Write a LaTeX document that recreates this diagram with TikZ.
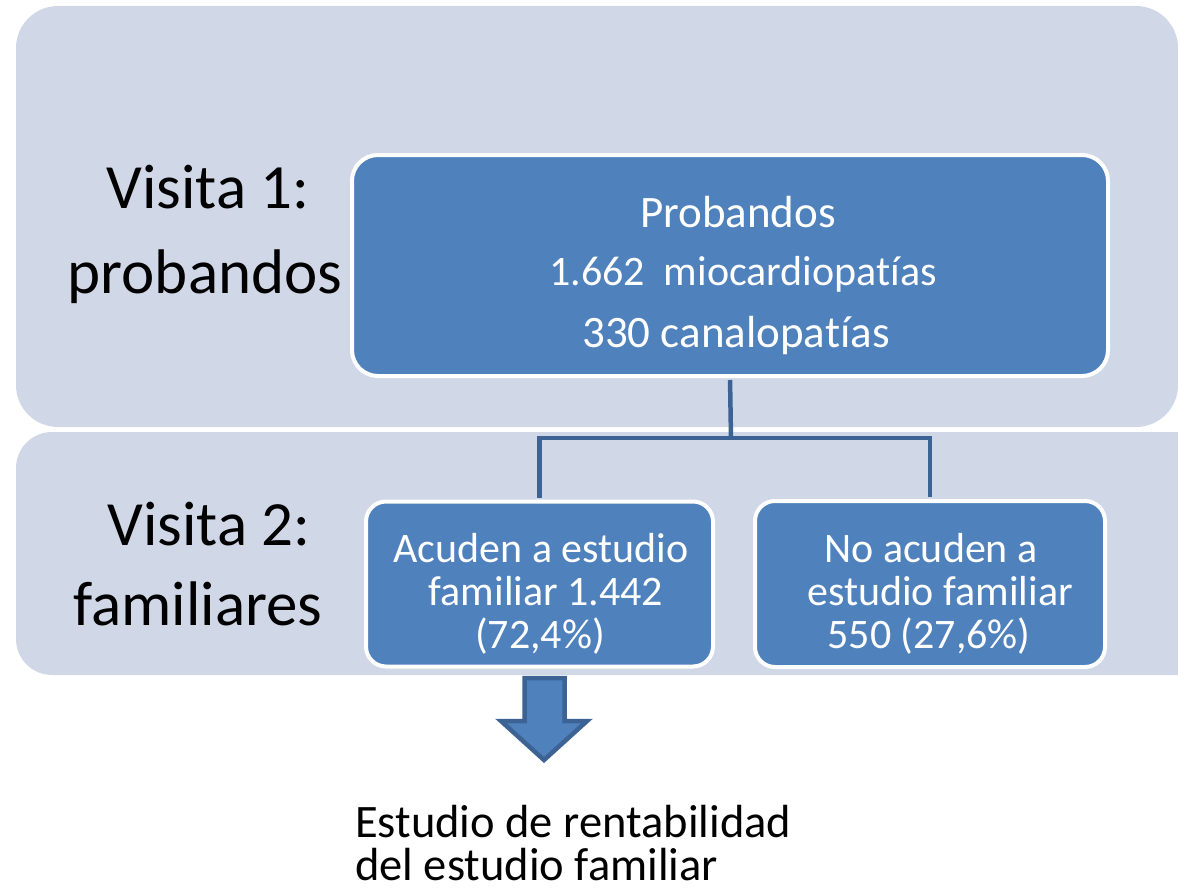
\documentclass[tikz,border=0pt]{standalone}
\usepackage{fontspec}
\setmainfont{Carlito}[Ligatures=NoCommon]
\definecolor{bandfill}{HTML}{D0D8E8}
\definecolor{boxfill}{HTML}{4F81BD}
\definecolor{connblue}{HTML}{3C6394}
\begin{document}
\begin{tikzpicture}[x=1pt,y=-1pt,
  band/.style={fill=bandfill, draw=none, inner sep=0pt},
  bluebox/.style={fill=boxfill, draw=white, line width=4pt, inner sep=0pt},
  boxtext/.style={text=white, font=\fontsize{42}{43}\selectfont, inner sep=0pt, anchor=base},
  bigboxtext/.style={boxtext, font=\fontsize{45}{46}\selectfont},
  sidetext/.style={text=black, font=\fontsize{63}{80}\selectfont, inner sep=0pt, anchor=base},
  bottext/.style={text=black, font=\fontsize{46.5}{43}\selectfont, inner sep=0pt, anchor=base west, align=left},
  conn/.style={draw=connblue, line width=4.5pt},
  blockarrow/.style={fill=boxfill, draw=connblue, line width=4.5pt, line join=miter}]
\useasboundingbox (0,0) rectangle (1178,891);
\clip (0,0) rectangle (1178,891);
\fill[white] (0,0) rectangle (1178,891);
% bands
\node[band, rounded corners=42pt, minimum width=1162pt, minimum height=421pt] (band1) at (597,216.5) {};
\node[band, rounded corners=36pt, minimum width=1214pt, minimum height=243pt] (band2) at (623,553.5) {};
% side labels
\node[sidetext] (v1a) at (208,208) {Visita 1:};
\node[sidetext] (v1b) at (205,293) {probandos};
\node[sidetext] (v2a) at (209,545) {Visita 2:};
\node[sidetext] (v2b) at (198,625) {familiares};
% boxes
\node[bluebox, rounded corners=26pt, minimum width=756pt, minimum height=221pt] (prob) at (730,265.5) {};
\node[bluebox, rounded corners=20pt, minimum width=347pt, minimum height=165pt] (acu) at (539.5,584) {};
\node[bluebox, rounded corners=20pt, minimum width=350pt, minimum height=166pt] (noacu) at (930,584) {};
% box texts
\node[bigboxtext] (p1) at (738,227) {Probandos};
\node[boxtext] (p2) at (743,285) {1.662\ \ miocardiopatías};
\node[bigboxtext] (p3) at (736,347) {330 canalopatías};
\node[boxtext] (a1) at (541,562) {Acuden a estudio};
\node[boxtext] (a2) at (546,605) {familiar 1.442};
\node[boxtext] (a3) at (540,648) {(72,4\%)};
\node[boxtext] (n1) at (931,562) {No acuden a};
\node[boxtext] (n2) at (940,605) {estudio familiar};
\node[boxtext] (n3) at (929,648) {550 (27,6\%)};
% connectors
\coordinate (split) at (731,438);
\draw[conn, shorten <=2pt] (prob.south) -- (split);
\draw[conn, shorten <=2pt, shorten >=2pt] (acu.north) |- (split) -| (noacu.north);
% block arrow
\draw[blockarrow] (524.5,678) -- (564.5,678) -- (564.5,721) -- (587,721) -- (544,760) -- (501,721) -- (524.5,721) -- cycle;
% bottom text
\node[bottext] (bot) at (355,880) {Estudio de rentabilidad\\del estudio familiar};
\end{tikzpicture}
\end{document}
